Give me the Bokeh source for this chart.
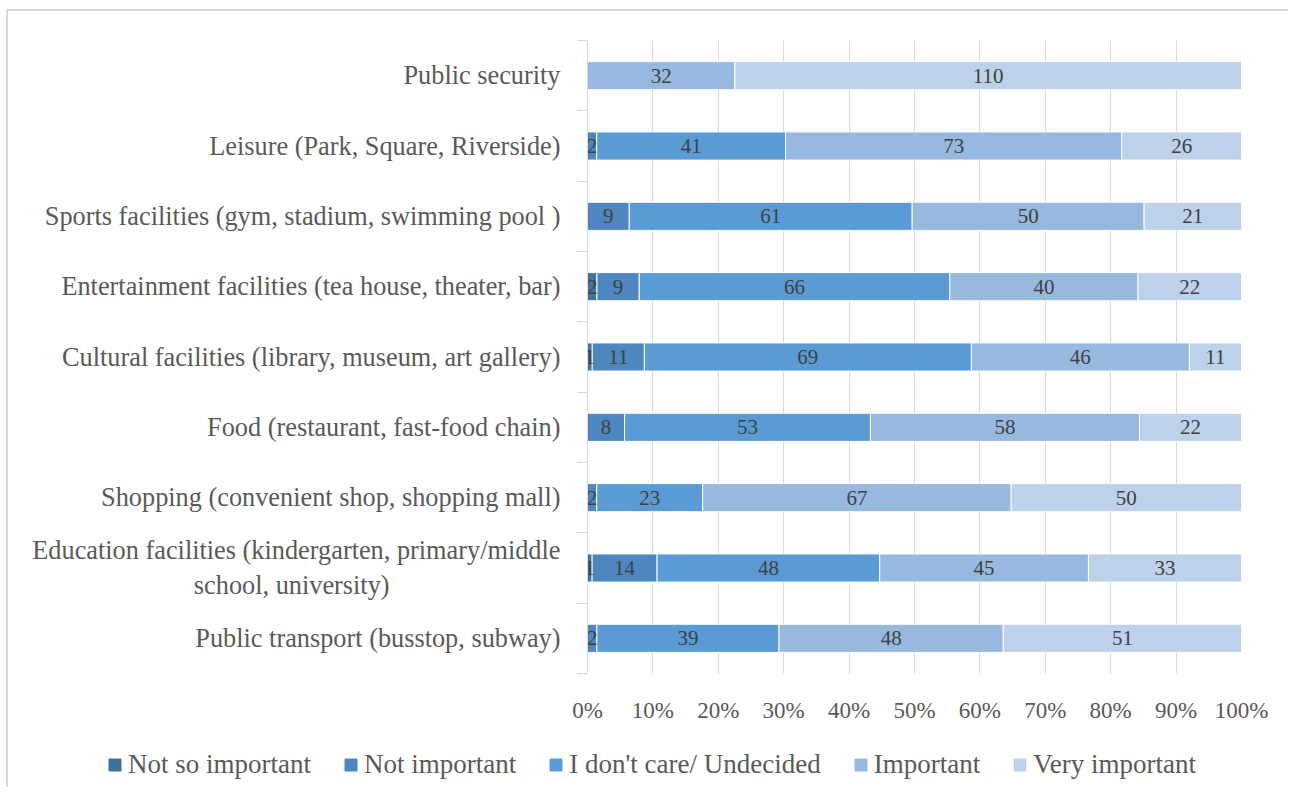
from bokeh.plotting import figure
from bokeh.layouts import column
from bokeh.models import (ColumnDataSource, FixedTicker, NumeralTickFormatter, Legend,
                          LegendItem, Range1d)
from bokeh.core.properties import value
from bokeh.embed import file_html
from bokeh.resources import INLINE

# ---- data (top to bottom as in the chart) ----
NB = "\u00a0"
categories = [
    "Public security",
    "Leisure (Park, Square, Riverside)",
    "Sports facilities (gym, stadium, swimming pool )",
    "Entertainment facilities (tea house, theater, bar)",
    "Cultural facilities (library, museum, art gallery)",
    "Food (restaurant, fast-food chain)",
    "Shopping (convenient shop, shopping mall)",
    "Education facilities (kindergarten, primary/middle\nschool, university)" + NB * 26,
    "Public transport (busstop, subway)",
]
not_so_important = [0, 0, 0, 2, 1, 0, 0, 1, 0]
not_important = [0, 2, 9, 9, 11, 8, 2, 14, 2]
undecided = [0, 41, 61, 66, 69, 53, 23, 48, 39]
important = [32, 73, 50, 40, 46, 58, 67, 45, 48]
very_important = [110, 26, 21, 22, 11, 22, 50, 33, 51]

series_names = ["Not so important", "Not important", "I don't care/ Undecided",
                "Important", "Very important"]
series_values = [not_so_important, not_important, undecided, important, very_important]
colors = ["#41719C", "#4E86BF", "#5B9BD5", "#97B9E0", "#BDD1EB"]
x_ticks = [i / 10 for i in range(11)]

FONT = "Liberation Serif"
n = len(categories)
ypos = [n - 1 - i for i in range(n)]
totals = [sum(s[i] for s in series_values) for i in range(n)]

keys = ["s%d" % k for k in range(len(series_values))]
data = {"y": ypos}
for k, vals in zip(keys, series_values):
    data[k] = [v / t for v, t in zip(vals, totals)]
source = ColumnDataSource(data)

p = figure(width=1280, height=724, output_backend="svg", toolbar_location=None,
           x_range=Range1d(0, 1), y_range=Range1d(-0.5, n - 0.5),
           min_border_left=579, min_border_right=47, min_border_top=29,
           min_border_bottom=62)
p.outline_line_color = None
p.frame_align = False

renderers = p.hbar_stack(keys, y="y", height=0.4, color=colors, source=source,
                         line_color="white", line_width=1)

# data labels
lx, ly, lt = [], [], []
for i in range(n):
    left = 0.0
    for vals in series_values:
        frac = vals[i] / totals[i]
        if vals[i] > 0:
            lx.append(left + frac / 2)
            ly.append(ypos[i])
            lt.append(str(vals[i]))
        left += frac
p.text(x="x", y="y", text="t", source=ColumnDataSource(dict(x=lx, y=ly, t=lt)),
       text_align="center", text_baseline="middle", text_color="#404040",
       text_font=value(FONT), text_font_size="21px")

# x axis
p.xaxis.ticker = FixedTicker(ticks=x_ticks)
p.xaxis.formatter = NumeralTickFormatter(format="0%")
p.xaxis.axis_line_color = None
p.xaxis.major_tick_line_color = None
p.xaxis.minor_tick_line_color = None
p.xaxis.major_label_standoff = 18
p.xaxis.major_label_text_font = FONT
p.xaxis.major_label_text_font_size = "23px"
p.xaxis.major_label_text_color = "#595959"
p.xgrid.ticker = FixedTicker(ticks=x_ticks)
p.xgrid.grid_line_color = "#d9d9d9"
p.xgrid.grid_line_width = 1
p.ygrid.grid_line_color = None

# y axis
p.yaxis.ticker = FixedTicker(ticks=ypos, minor_ticks=[v - 0.5 for v in range(n + 1)])
p.yaxis.major_label_overrides = {y: c for y, c in zip(ypos, categories)}
p.yaxis.major_tick_out = 0
p.yaxis.major_tick_in = 0
p.yaxis.minor_tick_out = 10
p.yaxis.minor_tick_in = 0
p.yaxis.minor_tick_line_color = "#d9d9d9"
p.yaxis.axis_line_color = "#d9d9d9"
p.yaxis.axis_line_width = 1
p.yaxis.major_label_standoff = 17
p.yaxis.major_label_text_font = FONT
p.yaxis.major_label_text_font_size = "26.3px"
p.yaxis.major_label_text_color = "#595959"

# legend in a strip below the chart
p2 = figure(width=1280, height=52, output_backend="svg", toolbar_location=None,
            x_range=Range1d(0, 1), y_range=Range1d(0, 1),
            x_axis_location=None, y_axis_location=None, min_border=0)
p2.outline_line_color = None
p2.grid.grid_line_color = None
p2.frame_align = False
dummies = [p2.hbar(y=[-10], right=[1], height=0.4, color=c) for c in colors]
legend = Legend(items=[LegendItem(label=nm, renderers=[r]) for nm, r in zip(series_names, dummies)],
                orientation="horizontal", location=(99, 7),
                glyph_width=15, glyph_height=15, label_standoff=6, spacing=32,
                padding=0, margin=0, border_line_color=None, background_fill_alpha=0,
                label_text_font=FONT, label_text_font_size="27px",
                label_text_color="#595959", label_height=20)
p2.add_layout(legend, "center")

layout = column(p, p2, styles={"border-top": "2px solid #d9d9d9",
                               "border-left": "2px solid #d9d9d9",
                               "margin-left": "6px", "margin-top": "9px"})

open("out.html", "w").write(file_html(layout, INLINE))
